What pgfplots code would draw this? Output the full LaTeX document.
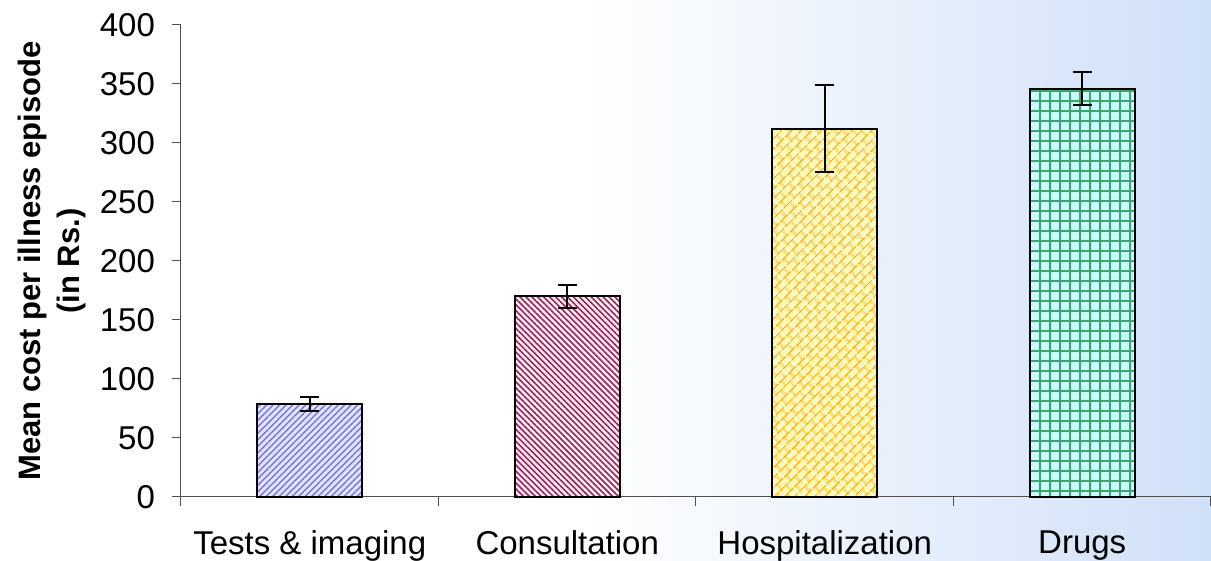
\documentclass[border=0pt]{standalone}
\usepackage{fontspec}
\setmainfont{Liberation Sans}
\usepackage{pgfplots}
\pgfplotsset{compat=1.18}
\usetikzlibrary{patterns.meta}

\definecolor{axisgray}{RGB}{80,80,80}
\definecolor{bgblue}{RGB}{208,224,248}
\definecolor{bgmid}{RGB}{232,240,252}
\definecolor{testline}{RGB}{115,115,235}
\definecolor{testbg}{RGB}{228,228,255}
\definecolor{consline}{RGB}{155,35,90}
\definecolor{consbg}{RGB}{255,238,246}
\definecolor{hospline}{RGB}{255,172,20}
\definecolor{hospbg}{RGB}{255,250,185}
\definecolor{drugline}{RGB}{60,165,110}
\definecolor{drugbg}{RGB}{200,255,252}

% diagonal brick pattern for the hospitalization bar
\pgfdeclarepattern{
  name=brickdiag,
  type=uncolored,
  bottom left={\pgfpoint{0pt}{0pt}},
  top right={\pgfpoint{6pt}{7pt}},
  tile size={\pgfpoint{6pt}{7pt}},
  tile transformation={\pgftransformrotate{45}},
  code={
    \pgfsetlinewidth{0.6pt}
    \pgfpathmoveto{\pgfpoint{0pt}{0.5pt}}\pgfpathlineto{\pgfpoint{6pt}{0.5pt}}
    \pgfpathmoveto{\pgfpoint{0pt}{4pt}}\pgfpathlineto{\pgfpoint{6pt}{4pt}}
    \pgfpathmoveto{\pgfpoint{1.5pt}{0.5pt}}\pgfpathlineto{\pgfpoint{1.5pt}{4pt}}
    \pgfpathmoveto{\pgfpoint{4.5pt}{4pt}}\pgfpathlineto{\pgfpoint{4.5pt}{7.5pt}}
    \pgfusepath{stroke}
  }
}

\begin{document}
\begin{tikzpicture}
% slide background
\fill[white] (-90.5pt,-32pt) rectangle (515pt,248.5pt);
\shade[left color=white, middle color=bgmid, right color=bgblue] (200pt,-32pt) rectangle (515pt,248.5pt);
\useasboundingbox (-90.5pt,-32pt) rectangle (515pt,248.5pt);

\begin{axis}[
  scale only axis,
  width=515pt, height=236pt,
  xmin=-0.5, xmax=3.5,
  ymin=0, ymax=400,
  axis x line*=bottom, axis y line*=left,
  axis line style={axisgray, line width=0.5pt, -},
  tick style={axisgray, line width=0.5pt},
  tick align=outside,
  major tick length=4.5pt,
  ytick={0,50,...,400},
  xtick={-0.5,0.5,1.5,2.5,3.5},
  xticklabels={},
  extra x ticks={0,1,2,3},
  extra x tick labels={Tests \& imaging, Consultation, Hospitalization, Drugs},
  extra x tick style={tick style={draw=none},
    tick label style={yshift=-8.7pt}},
  tick label style={font=\fontsize{16.5}{19}\selectfont},
  yticklabel style={xshift=-5pt},
  /pgf/number format/assume math mode=true,
  ylabel={Mean cost per illness episode\\(in Rs.)},
  ylabel style={align=center, font=\bfseries\fontsize{15.5}{19.5}\selectfont},
  clip=false,
]
\addplot[ybar, bar width=52.5pt, bar shift=0pt, draw=black, line width=1pt,
  fill=testbg, postaction={pattern={Lines[angle=45,distance=2.3pt,line width=0.7pt]}, pattern color=testline}]
  coordinates {(0,79)};
\addplot[ybar, bar width=52.5pt, bar shift=0pt, draw=black, line width=1pt,
  fill=consbg, postaction={pattern={Lines[angle=-45,distance=2.1pt,line width=0.8pt]}, pattern color=consline}]
  coordinates {(1,170)};
\addplot[ybar, bar width=52.5pt, bar shift=0pt, draw=black, line width=1pt,
  fill=hospbg, postaction={pattern=brickdiag, pattern color=hospline}]
  coordinates {(2,312)};
\addplot[ybar, bar width=52.5pt, bar shift=0pt, draw=black, line width=1pt,
  fill=drugbg,
  postaction={pattern={Lines[angle=0,distance=5pt,line width=0.6pt]}, pattern color=drugline},
  postaction={pattern={Lines[angle=90,distance=5pt,line width=0.6pt]}, pattern color=drugline}]
  coordinates {(3,346)};
% error bars
\addplot[draw=none, mark=none,
  error bars/.cd, y dir=both, y explicit,
  error bar style={draw=black, line width=1pt},
  error mark options={draw=black, rotate=90, mark size=4.75pt, line width=1pt}]
  coordinates {(0,79) +- (0,6) (1,170) +- (0,10) (2,312) +- (0,37) (3,346) +- (0,14)};
\end{axis}
\end{tikzpicture}
\end{document}
